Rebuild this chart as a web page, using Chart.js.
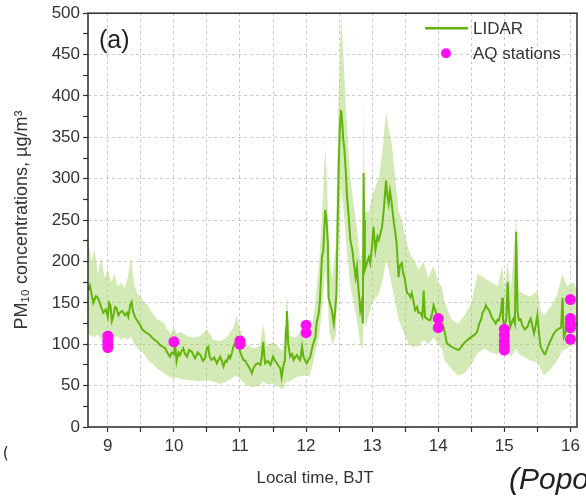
<!DOCTYPE html>
<html>
<head>
<meta charset="utf-8">
<script src="https://cdn.jsdelivr.net/npm/chart.js@4.4.1/dist/chart.umd.min.js"></script>
<style>
  html, body { margin: 0; padding: 0; background: #fff; }
  #wrap { position: relative; width: 586px; height: 499px; overflow: hidden; }
  canvas { position: absolute; left: 0; top: 0; }
  .stray1 { position: absolute; left: 1px; top: 444px; font-family: "DejaVu Sans Mono", monospace; font-size: 15px; color: #222; }
  .stray2 { position: absolute; left: 509px; top: 462px; font-family: "Liberation Sans", Arial, sans-serif; font-style: italic; font-size: 30px; color: #222; white-space: nowrap; }
</style>
</head>
<body>
<div id="wrap">
  <canvas id="c" width="586" height="499"></canvas>
  <div class="stray1">(</div>
  <div class="stray2">(Popo</div>
</div>
<script>
// ---- Data ----
const lidarTime = [8.70,8.73,8.78,8.82,8.85,8.90,8.93,8.97,9.00,9.02,9.04,9.06,9.08,9.11,9.13,9.16,9.18,9.22,9.26,9.29,9.31,9.34,9.36,9.38,9.41,9.45,9.49,9.52,9.56,9.60,9.64,9.67,9.71,9.75,9.79,9.83,9.87,9.90,9.94,9.97,10.00,10.02,10.04,10.07,10.09,10.12,10.14,10.17,10.20,10.23,10.27,10.30,10.32,10.36,10.40,10.44,10.47,10.50,10.52,10.54,10.57,10.61,10.65,10.68,10.70,10.73,10.75,10.78,10.80,10.83,10.85,10.88,10.90,10.93,10.95,10.98,11.00,11.03,11.05,11.08,11.10,11.14,11.18,11.20,11.23,11.27,11.31,11.33,11.35,11.37,11.38,11.42,11.46,11.50,11.53,11.56,11.58,11.61,11.63,11.66,11.68,11.70,11.71,11.73,11.76,11.79,11.81,11.84,11.86,11.89,11.91,11.94,11.96,11.99,12.01,12.04,12.06,12.09,12.11,12.14,12.16,12.19,12.21,12.24,12.26,12.29,12.31,12.33,12.34,12.36,12.39,12.42,12.44,12.46,12.49,12.51,12.53,12.55,12.56,12.58,12.60,12.62,12.65,12.67,12.70,12.72,12.75,12.77,12.79,12.82,12.84,12.86,12.87,12.88,12.89,12.92,12.95,12.97,13.00,13.02,13.05,13.08,13.10,13.13,13.15,13.18,13.21,13.23,13.25,13.27,13.29,13.31,13.33,13.35,13.37,13.40,13.42,13.45,13.47,13.49,13.51,13.53,13.56,13.58,13.60,13.63,13.65,13.68,13.70,13.73,13.76,13.78,13.80,13.84,13.88,13.91,13.93,13.96,13.98,14.01,14.03,14.06,14.08,14.11,14.13,14.20,14.25,14.31,14.36,14.40,14.44,14.49,14.54,14.57,14.59,14.62,14.65,14.67,14.70,14.72,14.75,14.77,14.80,14.82,14.85,14.87,14.90,14.92,14.95,14.97,14.98,15.00,15.03,15.05,15.07,15.09,15.12,15.14,15.16,15.18,15.20,15.22,15.25,15.27,15.31,15.35,15.38,15.40,15.43,15.45,15.48,15.50,15.53,15.55,15.58,15.60,15.62,15.65,15.68,15.72,15.75,15.79,15.83,15.86,15.88,15.90,15.93,15.95,15.99,16.03,16.06,16.10];
const lidarPM10 = [165,171,150,158,156,145,138,142,133,150,147,128,133,145,144,135,138,140,135,138,133,148,151,140,133,128,123,118,115,113,111,108,105,103,99,97,95,90,85,90,88,100,79,90,87,92,95,88,85,93,91,86,83,90,87,80,83,96,97,85,81,84,77,82,85,79,73,80,79,86,83,90,97,102,107,100,91,85,81,80,77,72,65,70,75,77,75,85,103,85,77,80,75,85,80,77,74,71,60,75,81,120,140,100,85,88,81,85,87,83,81,97,85,80,77,82,84,95,101,108,126,137,153,206,212,262,250,222,157,150,141,125,140,162,302,360,383,365,350,335,310,278,250,226,214,200,181,193,170,141,150,125,307,250,190,198,205,198,220,242,214,230,226,235,242,266,298,280,270,285,274,260,246,235,222,181,195,198,185,181,170,162,160,157,162,150,141,145,138,138,133,165,133,130,129,138,147,140,135,130,129,125,121,110,101,97,95,93,98,102,105,108,111,113,115,125,130,138,142,147,143,141,135,131,128,125,130,129,140,156,130,121,130,175,140,121,128,131,125,236,140,129,130,123,118,121,128,131,120,113,125,135,110,97,92,89,88,95,101,108,113,117,119,120,156,109,115,121,124,125,122,125];

const bandTime  = [8.70,8.75,8.80,8.85,8.90,8.95,9.00,9.05,9.10,9.15,9.20,9.25,9.30,9.35,9.40,9.45,9.50,9.55,9.60,9.65,9.70,9.75,9.80,9.85,9.90,9.95,10.00,10.05,10.10,10.20,10.30,10.40,10.50,10.60,10.70,10.80,10.90,10.95,11.00,11.10,11.20,11.30,11.35,11.40,11.50,11.60,11.65,11.71,11.75,11.85,11.95,12.00,12.05,12.10,12.15,12.20,12.25,12.29,12.32,12.35,12.40,12.45,12.49,12.53,12.57,12.62,12.67,12.72,12.77,12.82,12.86,12.87,12.89,12.95,13.00,13.05,13.10,13.15,13.21,13.25,13.30,13.35,13.40,13.45,13.50,13.55,13.60,13.65,13.70,13.78,13.85,13.93,14.00,14.05,14.10,14.20,14.30,14.40,14.50,14.60,14.70,14.80,14.90,14.97,15.00,15.05,15.10,15.18,15.22,15.30,15.40,15.50,15.55,15.60,15.70,15.80,15.88,15.95,16.05,16.10];
const bandUpper = [228,200,215,185,205,180,190,175,185,170,175,168,180,205,172,160,158,150,148,140,135,130,128,125,118,112,120,112,115,110,108,110,118,105,104,108,120,135,118,100,95,98,125,98,103,95,92,160,110,108,118,105,108,125,160,200,270,340,290,200,180,220,390,500,440,360,300,270,240,200,220,400,260,260,280,290,300,330,380,360,340,300,260,250,230,215,205,200,190,200,180,195,175,170,150,130,125,135,150,185,180,175,170,195,165,200,165,255,165,160,158,165,140,135,145,160,185,170,175,165];
const bandLower = [112,110,108,112,105,100,102,100,108,110,105,108,105,110,100,95,92,88,82,78,75,70,68,65,62,60,58,60,58,57,56,55,57,55,52,55,60,62,58,50,48,50,55,52,52,48,45,55,55,60,62,62,62,75,95,110,150,190,170,115,100,110,220,290,260,210,170,150,130,100,95,220,120,135,150,155,160,175,200,190,170,150,130,120,110,100,97,97,98,105,100,108,100,95,80,70,62,65,75,90,95,90,88,95,85,90,85,95,88,85,80,78,70,62,70,80,92,95,100,102];

const aqTime = [9,9,9,9,10,11,11,12,12,14,14,15,15,15,15,15,16,16,16,16,16];
const aqPM10 = [110,104,100,96,103,104,100,123,114,131,120,118,111,104,98,93,154,131,125,120,106];

const xTicks = [9,10,11,12,13,14,15,16];
const yTicks = [0,50,100,150,200,250,300,350,400,450,500];

// ---- Build datasets ----
const pts = (xs, ys) => xs.map((x, i) => ({x: x, y: ys[i]}));
const GREEN = '#63b40c';
const BAND = 'rgba(168, 214, 110, 0.5)';
const MAGENTA = '#ff10f0';
const FONT = '"Liberation Sans", Arial, sans-serif';
const TXT = '#333';

const overlay = {
  id: 'overlay',
  afterDraw(chart) {
    const ctx = chart.ctx, a = chart.chartArea;
    ctx.save();
    // frame
    ctx.strokeStyle = '#2b2b2b';
    ctx.lineWidth = 1.5;
    ctx.strokeRect(a.left, a.top, a.right - a.left, a.bottom - a.top);
    // panel label
    ctx.fillStyle = '#222';
    ctx.font = '25px ' + FONT;
    ctx.textBaseline = 'middle';
    ctx.textAlign = 'left';
    ctx.fillText('(a)', a.left + 11, a.top + 28);
    // legend
    ctx.font = '17px ' + FONT;
    ctx.fillStyle = TXT;
    const lx = a.right - 152, ly1 = a.top + 15, ly2 = a.top + 40;
    ctx.strokeStyle = GREEN;
    ctx.lineWidth = 2.5;
    ctx.beginPath(); ctx.moveTo(lx, ly1); ctx.lineTo(lx + 43, ly1); ctx.stroke();
    ctx.fillText('LIDAR', lx + 48, ly1 + 1);
    ctx.fillStyle = MAGENTA;
    ctx.beginPath(); ctx.arc(lx + 21, ly2, 5, 0, Math.PI * 2); ctx.fill();
    ctx.fillStyle = TXT;
    ctx.fillText('AQ stations', lx + 48, ly2 + 1);
    // x-axis title (offset left of centre as in the reference)
    ctx.font = '17px ' + FONT;
    ctx.textAlign = 'center';
    ctx.fillText('Local time, BJT', 315, 478);
    ctx.restore();
  }
};

new Chart(document.getElementById('c'), {
  type: 'line',
  data: {
    datasets: [
      { label: 'band upper', data: pts(bandTime, bandUpper), fill: '+1', backgroundColor: BAND,
        borderWidth: 0, pointRadius: 0, tension: 0, order: 3 },
      { label: 'band lower', data: pts(bandTime, bandLower), fill: false,
        borderWidth: 0, pointRadius: 0, tension: 0, order: 3 },
      { label: 'LIDAR', data: pts(lidarTime, lidarPM10), borderColor: GREEN, borderWidth: 2,
        pointRadius: 0, fill: false, tension: 0, order: 2 },
      { type: 'scatter', label: 'AQ stations', data: pts(aqTime, aqPM10), showLine: false,
        backgroundColor: MAGENTA, borderColor: MAGENTA, pointRadius: 5.5, borderWidth: 0, order: 1 }
    ]
  },
  options: {
    responsive: false,
    animation: false,
    layout: { padding: { top: 12, right: 9, left: 0, bottom: 0 } },
    plugins: { legend: { display: false }, tooltip: { enabled: false } },
    scales: {
      x: {
        type: 'linear', min: 8.7, max: 16.1,
        afterFit: s => { s.height = 72; },
        ticks: { stepSize: 0.5, includeBounds: false, autoSkip: false, maxRotation: 0,
                 color: TXT, font: { family: FONT, size: 17 }, padding: 4,
                 callback: v => xTicks.includes(v) ? String(v) : '' },
        grid: { color: '#c9c9c9', lineWidth: 1, tickLength: 5, tickColor: '#333', tickWidth: 1.2 },
        border: { display: false, dash: [3, 3] },
        title: { display: false }
      },
      y: {
        min: 0, max: 500,
        afterFit: s => { s.width = 88; },
        ticks: { stepSize: 25, includeBounds: false, autoSkip: false,
                 color: TXT, font: { family: FONT, size: 17 }, padding: 3,
                 callback: v => yTicks.includes(v) ? String(v) : '' },
        grid: { color: c => (c.tick && c.tick.value % 50 === 0) ? '#c9c9c9' : 'rgba(0,0,0,0)',
                lineWidth: 1, tickLength: 5, tickColor: '#333', tickWidth: 1.2 },
        border: { display: false, dash: [3, 3] },
        title: { display: true, text: 'PM\u2081\u2080 concentrations, \u00b5g/m\u00b3', color: TXT,
                 font: { family: FONT, size: 18 }, padding: { top: 11, bottom: 2 } }
      }
    }
  },
  plugins: [overlay]
});
</script>
</body>
</html>
